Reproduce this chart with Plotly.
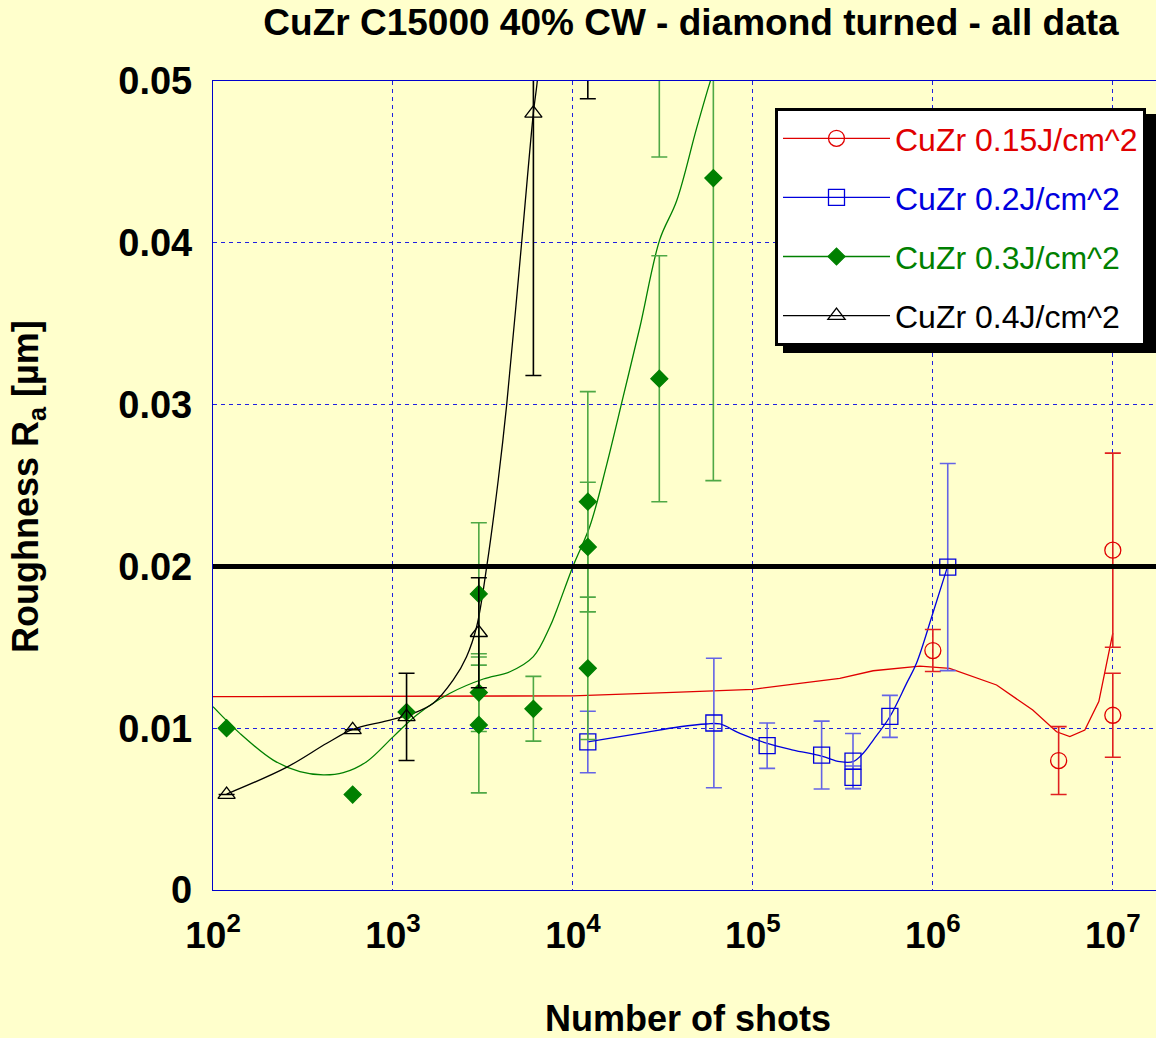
import plotly.graph_objects as go

# ---------------- data ----------------
series_names = ["CuZr 0.15J/cm^2", "CuZr 0.2J/cm^2", "CuZr 0.3J/cm^2", "CuZr 0.4J/cm^2"]

# 0.15 J/cm^2 (red, open circles)
red_x = [1.0e6, 5.0e6, 1.0e7, 1.0e7]
red_y = [0.0148, 0.0080, 0.0210, 0.0108]
red_err = [0.0013, 0.0021, 0.0060, 0.0026]
red_fit_x = [100, 1000, 6560, 1.0e4, 3.6e4, 1.0e5, 1.82e5, 3.04e5, 4.66e5, 8.47e5,
             1.24e6, 2.26e6, 3.59e6, 4.87e6, 5.77e6, 6.99e6, 8.36e6, 1.0e7]
red_fit_y = [0.01195, 0.01197, 0.01197, 0.0120, 0.01222, 0.0124, 0.01277, 0.01308, 0.01355, 0.01384,
             0.0137, 0.01267, 0.01112, 0.00978, 0.00948, 0.00989, 0.01164, 0.01587]

# 0.2 J/cm^2 (blue, open squares)
blue_x = [1.21e4, 6.07e4, 1.2e5, 2.41e5, 3.6e5, 3.6e5, 5.77e5, 1.21e6]
blue_y = [0.00915, 0.01032, 0.00892, 0.00834, 0.00797, 0.00696, 0.01073, 0.01996]
blue_err = [0.0019, 0.0040, 0.0014, 0.0021, 0.0017, 0.0007, 0.0013, 0.0064]
blue_fit_x = [12078, 23550, 39264, 55335, 65615, 84723, 120226, 167494, 240991, 304089,
              360579, 410204, 466659, 576766, 714496, 810961, 1.0e6, 1.208e6]
blue_fit_y = [0.00915, 0.00968, 0.01009, 0.01026, 0.01026, 0.00968, 0.00906, 0.00865, 0.00828, 0.00793,
              0.00793, 0.00845, 0.00927, 0.01071, 0.01277, 0.01401, 0.0171, 0.0200]

# 0.3 J/cm^2 (green, filled diamonds)
green_x = [119, 597, 1190, 3000, 3000, 3000, 6030, 12100, 12100, 12100, 30200, 30200, 60300]
green_y = [0.0100, 0.0059, 0.0110, 0.0183, 0.0122, 0.0102, 0.0112, 0.0240, 0.0212, 0.0137, 0.0316, 0.0600, 0.0440]
green_err = [0, 0, 0, 0.0044, 0.0024, 0.0042, 0.0020, 0.0068, 0.0040, 0.0044, 0.0076, 0.0147, 0.0187]
green_fit_x = [100, 141, 216, 304, 410, 530, 714, 1005, 1355, 2075, 3177, 4467, 6026, 7447,
               8110, 1.0e4, 12417, 15382, 19055, 23550, 30409, 37670, 48641, 57677, 63096]
green_fit_y = [0.01133, 0.00968, 0.00803, 0.00731, 0.00711, 0.00725, 0.00793, 0.00948, 0.01082, 0.01216,
               0.01304, 0.01349, 0.01442, 0.01627, 0.01728, 0.0200, 0.02248, 0.02626, 0.03052, 0.03478,
               0.04021, 0.04258, 0.04707, 0.0499, 0.0512]

# 0.4 J/cm^2 (black, open triangles)
black_x = [119, 597, 1190, 3000, 6030, 12100]
black_y = [0.0059, 0.0099, 0.0107, 0.0159, 0.0480, 0.0650]
black_err = [0, 0, 0.0027, 0.0034, 0.0162, 0.0161]
black_fit_x = [119, 256, 429, 597, 923, 1297, 1675, 2163, 2564, 2917, 3319, 3846, 4285, 5188, 6026, 6339, 6531]
black_fit_y = [0.00593, 0.00758, 0.00907, 0.00993, 0.01046, 0.01092, 0.01154, 0.01298, 0.01442, 0.01627,
               0.01998, 0.02534, 0.0300, 0.0400, 0.0480, 0.0500, 0.0520]

limit_y = 0.02

x_tick_vals = [1e2, 1e3, 1e4, 1e5, 1e6, 1e7]
x_tick_text = ["10<sup>2</sup>", "10<sup>3</sup>", "10<sup>4</sup>", "10<sup>5</sup>", "10<sup>6</sup>", "10<sup>7</sup>"]
y_tick_vals = [0, 0.01, 0.02, 0.03, 0.04, 0.05]
y_tick_text = ["0", "0.01", "0.02", "0.03", "0.04", "0.05"]

# ---------------- style ----------------
RED = "#E00000"
BLUE = "#0000DD"
GREEN = "#008000"
BLACK = "#000000"
BG = "#FFFFCC"
FONT = "Arial, Liberation Sans, sans-serif"

fig = go.Figure()

def fit_trace(x, y, color, shape="spline"):
    return go.Scatter(x=x, y=y, mode="lines", line=dict(color=color, width=1.3, shape=shape),
                      showlegend=False, hoverinfo="skip")

def pts_trace(x, y, err, ecolor, symbol, size, color):
    return go.Scatter(x=x, y=y, mode="markers", showlegend=False,
                      error_y=dict(type="data", array=err, color=ecolor, thickness=1.6, width=8),
                      marker=dict(symbol=symbol, size=size, color=color,
                                  line=dict(color=color, width=1.3)))

fig.add_trace(fit_trace(red_fit_x, red_fit_y, RED, "linear"))
fig.add_trace(fit_trace(blue_fit_x, blue_fit_y, BLUE))
fig.add_trace(fit_trace(green_fit_x, green_fit_y, GREEN))
fig.add_trace(fit_trace(black_fit_x, black_fit_y, BLACK))

fig.add_trace(pts_trace(red_x, red_y, red_err, "#E02020", "circle-open", 16, RED))
fig.add_trace(pts_trace(blue_x, blue_y, blue_err, "#6464E6", "square-open", 16, BLUE))
fig.add_trace(pts_trace(green_x, green_y, green_err, "#4FA845", "diamond", 13, GREEN))
fig.add_trace(pts_trace(black_x, black_y, black_err, BLACK, "triangle-up-open", 15, BLACK))

# legend entries
legend_specs = [
    (series_names[0], RED, "circle-open", 16),
    (series_names[1], BLUE, "square-open", 16),
    (series_names[2], GREEN, "diamond", 13),
    (series_names[3], BLACK, "triangle-up-open", 15),
]
for i, (nm, col, sym, sz) in enumerate(legend_specs):
    fig.add_trace(go.Scatter(
        x=[None], y=[None], mode="lines+markers",
        name=f"<span style='color:{col}'>{nm}</span>",
        legendgroup=f"g{i}",
        line=dict(color=col, width=1.3),
        marker=dict(symbol=sym, size=sz, color=col, line=dict(color=col, width=1.3)),
    ))

# thick reference line at 0.02
fig.add_shape(type="line", xref="paper", yref="y", x0=0, x1=1, y0=limit_y, y1=limit_y,
              line=dict(color=BLACK, width=5), layer="above")

# legend shadow
fig.add_shape(type="rect", xref="paper", yref="paper",
              x0=(783 - 213) / 943, x1=1.02, y0=(890 - 353) / 809, y1=(890 - 114) / 809,
              fillcolor=BLACK, line=dict(width=0), layer="above")

fig.update_layout(
    width=1156, height=1038,
    margin=dict(l=213, r=0, t=81, b=148, autoexpand=False),
    paper_bgcolor=BG, plot_bgcolor=BG,
    font=dict(family=FONT, color=BLACK),
    title=dict(text="<b>CuZr C15000 40% CW - diamond turned - all data</b>",
               font=dict(size=37, family=FONT, color=BLACK),
               x=691 / 1156, xref="container", xanchor="center",
               y=1 - 22 / 1038, yref="container", yanchor="middle"),
    showlegend=True,
    legend=dict(x=(775 - 213) / 943, y=(890 - 108) / 809, xanchor="left", yanchor="top",
                bgcolor="white", bordercolor=BLACK, borderwidth=3,
                font=dict(size=32, family=FONT), traceorder="grouped", tracegroupgap=14.5,
                itemwidth=107),
    xaxis=dict(type="log", range=[2, 7.24], tickmode="array", tickvals=x_tick_vals, ticktext=x_tick_text,
               tickfont=dict(size=37, family=FONT, color=BLACK, weight="bold"),
               showgrid=True, gridcolor="#2020E0", griddash="4px,4px", gridwidth=1,
               showline=True, linecolor="#0000CC", linewidth=1.3, mirror=True,
               ticks="", ticklabelstandoff=12, zeroline=False),
    yaxis=dict(range=[0, 0.05], tickvals=y_tick_vals, ticktext=y_tick_text,
               tickfont=dict(size=38, family=FONT, color=BLACK, weight="bold"),
               showgrid=True, gridcolor="#2020E0", griddash="4px,4px", gridwidth=1,
               showline=True, linecolor="#0000CC", linewidth=1.3,
               ticks="", ticklabelstandoff=12, zeroline=False),
    annotations=[
        dict(text="<b>Number of shots</b>", xref="paper", yref="paper", x=(688 - 213) / 943,
             y=(890 - 1018) / 809, xanchor="center", yanchor="middle", showarrow=False,
             font=dict(size=36, family=FONT, color=BLACK)),
        dict(text="<b>Roughness R<sub>a</sub> [µm]</b>", xref="paper", yref="paper",
             x=(28 - 213) / 943, y=(890 - 487) / 809, xanchor="center", yanchor="middle",
             textangle=-90, showarrow=False, font=dict(size=36, family=FONT, color=BLACK)),
    ],
)

fig.write_html("out.html", config={"displayModeBar": False},
               post_script="document.body.style.margin='0px';document.body.style.background='#FFFFCC';")
